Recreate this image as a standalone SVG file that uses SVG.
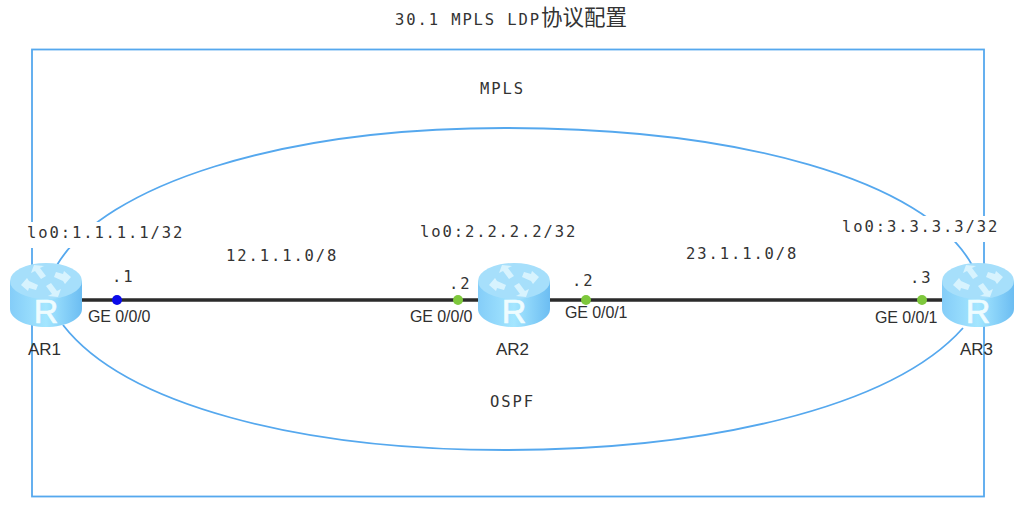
<svg xmlns="http://www.w3.org/2000/svg" width="1024" height="513" viewBox="0 0 1024 513">
<style>
.m{font-family:"DejaVu Sans Mono","Noto Sans CJK SC",monospace;font-size:15.5px;fill:#333;letter-spacing:1.9px}
.t{font-family:"Noto Sans CJK SC",sans-serif;font-size:21.5px;letter-spacing:0;fill:#333}
.s{font-family:"Liberation Sans",Arial,sans-serif;font-size:16px;fill:#2f2f2f;letter-spacing:-.1px}
.n{font-family:"Liberation Sans",Arial,sans-serif;font-size:17px;fill:#2f2f2f}
.r{font-family:"Liberation Sans",Arial,sans-serif;font-size:34px;fill:#eefcff;stroke:#eefcff;stroke-width:.7;text-anchor:middle}
.b{fill:none;stroke:#55a8ee;stroke-width:1.8}
.l{fill:none;stroke:#2b2b2b;stroke-width:3.4}
.p{fill:#e4f7ff;opacity:.8}
</style>
<defs>
<linearGradient id="g" x1="0" x2="1" y1="0" y2="0"><stop offset="0" stop-color="#84cdf8"/><stop offset=".5" stop-color="#a4e6ff"/><stop offset="1" stop-color="#6cbdf2"/></linearGradient>
<filter id="soft" x="-20%" y="-20%" width="140%" height="140%"><feGaussianBlur stdDeviation=".6"/></filter>
<g id="router">
<path d="M-36-15V13C-36 23-20 31 0 31S36 23 36 13V-15Z" fill="url(#g)"/>
<ellipse cx="0" cy="-15" rx="36" ry="18" fill="#a6dffb"/>
<g filter="url(#soft)">
<path class="p" d="M-5-17L-11-25L-15-23L-12-31L-2-30L-6-28L0-20Z"/>
<path class="p" d="M5-13L11-5L15-7L12 1L2 0L6-2L0-10Z"/>
<path class="p" d="M-8-11L-17-15L-19-18L-25-11L-18-5L-17-8L-10-6Z"/>
<path class="p" d="M8-19L17-15L19-12L25-19L18-25L17-22L10-24Z"/>
</g>
</g>
</defs>
<rect width="1024" height="513" fill="#fff"/>
<rect id="frame" class="b" x="32" y="49.500" width="952" height="447"/>
<g id="connectors">
<path class="b" d="M57 265C105 185 280 128 505 128C740 128 925 180 972 265"/>
<path class="b" d="M63 325C125 405 300 450 505 450C700 450 890 410 963 328"/>
<path class="l" d="M80 300H480M548 300H944"/>
</g>
<g id="loopback-labels">
<rect x="25" y="222" width="162" height="26" fill="#fff"/>
<rect x="840" y="216" width="162" height="26" fill="#fff"/>
<text class="m" x="27" y="238">lo0:1.1.1.1/32</text>
<text class="m" x="420" y="237">lo0:2.2.2.2/32</text>
<text class="m" x="842" y="232">lo0:3.3.3.3/32</text>
</g>
<g id="AR1"><use href="#router" x="46" y="296"/><text class="r" x="46" y="323">R</text><text class="n" x="28" y="355">AR1</text></g>
<g id="AR2"><use href="#router" x="514" y="296"/><text class="r" x="514" y="323">R</text><text class="n" x="496" y="355">AR2</text></g>
<g id="AR3"><use href="#router" x="978" y="296"/><text class="r" x="978" y="323">R</text><text class="n" x="960" y="355">AR3</text></g>
<g id="ports">
<circle cx="117" cy="300" r="5" fill="#0b0bea"/>
<circle cx="458" cy="300" r="5" fill="#7ec83c"/>
<circle cx="586" cy="300" r="5" fill="#7ec83c"/>
<circle cx="922" cy="300" r="5" fill="#7ec83c"/>
<text class="m" x="112" y="282">.1</text>
<text class="m" x="449" y="289">.2</text>
<text class="m" x="572" y="286">.2</text>
<text class="m" x="910" y="283">.3</text>
<text class="s" x="88" y="322">GE 0/0/0</text>
<text class="s" x="410" y="322">GE 0/0/0</text>
<text class="s" x="565" y="318">GE 0/0/1</text>
<text class="s" x="875" y="323">GE 0/0/1</text>
</g>
<g id="labels">
<text class="m" x="395" y="25">30.1 MPLS LDP<tspan class="t">协议配置</tspan></text>
<text class="m" x="480" y="94">MPLS</text>
<text class="m" x="490" y="407">OSPF</text>
<text class="m" x="226" y="261">12.1.1.0/8</text>
<text class="m" x="686" y="259">23.1.1.0/8</text>
</g>
</svg>
